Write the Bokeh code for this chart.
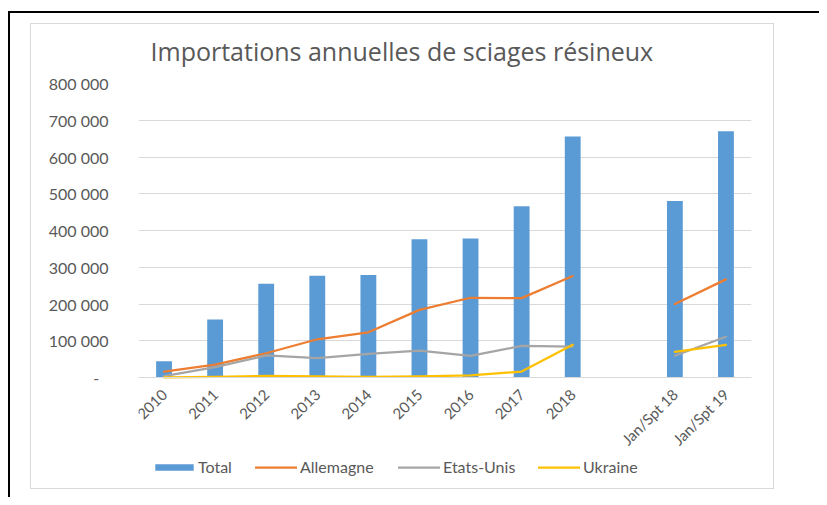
import math
import numpy as np
from bokeh.plotting import figure
from bokeh.models import (Range1d, FactorRange, ColumnDataSource, Legend, LegendItem,
                          FixedTicker, InlineStyleSheet)
from bokeh.embed import file_html
from bokeh.resources import INLINE
from bokeh.core.properties import value

nan = float("nan")

categories = ["2010", "2011", "2012", "2013", "2014", "2015", "2016", "2017", "2018",
              " ", "Jan/Spt 18", "Jan/Spt 19"]
total = [44000, 158000, 255000, 277000, 279000, 376000, 378000, 466000, 656000, nan, 480000, 670000]
allemagne = [16000, 35000, 66000, 104000, 123000, 184000, 217000, 216000, 276000, nan, 200000, 267000]
etats_unis = [4000, 28000, 60000, 53000, 64000, 73000, 59000, 86000, 84000, nan, 59000, 111000]
ukraine = [500, 1500, 4500, 3000, 2000, 3000, 6000, 16000, 89000, nan, 70000, 89000]

y_ticks = [0, 100000, 200000, 300000, 400000, 500000, 600000, 700000, 800000]
y_labels = ["-\u2007", "100 000", "200 000", "300 000", "400 000", "500 000",
            "600 000", "700 000", "800 000"]

series_names = ["Total", "Allemagne", "Etats-Unis", "Ukraine"]
title_text = "Importations annuelles de sciages résineux"

src = ColumnDataSource(dict(
    cat=categories,
    total=np.array(total, dtype=float),
    allemagne=np.array(allemagne, dtype=float),
    etats_unis=np.array(etats_unis, dtype=float),
    ukraine=np.array(ukraine, dtype=float),
))

FONT = "Lato"
TXT = "#595959"
GRID = "#D9D9D9"

# layout (pixels): plot area from y=83 (800 000) to y=377 (0); frame extends
# 100 px below zero so the legend can live inside it.
Y_MAX = 800000
PLOT_PX = 294
BELOW_PX = 100
y_start = -Y_MAX * BELOW_PX / PLOT_PX

frame_css = InlineStyleSheet(css="""
:host::before {
  content: ""; position: absolute; left: 30px; top: 23px; width: 744px; height: 466px;
  box-sizing: border-box; border: 1.5px solid #D9D9D9; pointer-events: none; z-index: 5;
}
:host::after {
  content: ""; position: absolute; left: 8px; top: 11px; width: 811px; height: 486px;
  box-sizing: border-box; border-top: 2px solid #000; border-left: 2px solid #000;
  pointer-events: none; z-index: 5;
}
""")

p = figure(width=819, height=497,
           x_range=FactorRange(*categories, range_padding=0),
           y_range=Range1d(y_start, Y_MAX),
           output_backend="svg", toolbar_location=None,
           min_border_left=138, min_border_right=68,
           min_border_top=83, min_border_bottom=20)
p.stylesheets = [frame_css]

p.outline_line_color = None
p.background_fill_color = "white"
p.border_fill_color = "white"

p.title.text = title_text
p.title.align = "left"
p.title.offset = 12
p.title.standoff = 31
p.title.text_font = "Open Sans"
p.title.text_font_size = "25px"
p.title.text_font_style = "normal"
p.title.text_color = TXT

p.xgrid.visible = False
p.ygrid.ticker = FixedTicker(ticks=y_ticks)
p.ygrid.grid_line_color = GRID
p.ygrid.grid_line_width = 1

p.yaxis.ticker = FixedTicker(ticks=y_ticks)
p.yaxis.major_label_overrides = {t: l for t, l in zip(y_ticks, y_labels)}
p.yaxis.axis_line_color = None
p.yaxis.major_tick_line_color = None
p.yaxis.minor_tick_line_color = None
p.yaxis.major_tick_out = 0
p.yaxis.major_tick_in = 0
p.yaxis.major_label_standoff = 30
p.yaxis.major_label_text_font = FONT
p.yaxis.major_label_text_font_size = "16px"
p.yaxis.major_label_text_color = TXT

xax = p.xaxis[0]
xax.fixed_location = 0
xax.axis_line_color = GRID
xax.axis_line_width = 1
xax.major_tick_line_color = None
xax.major_tick_out = 0
xax.major_tick_in = 0
xax.major_label_orientation = math.pi / 4
xax.major_label_standoff = 14
xax.major_label_text_font = FONT
xax.major_label_text_font_size = "15px"
xax.major_label_text_color = TXT

bars = p.vbar(x="cat", top="total", width=0.31, source=src,
              fill_color="#5B9BD5", line_color=None)
l_all = p.line(x="cat", y="allemagne", source=src, line_color="#ED7D31",
               line_width=2.25, line_join="round", line_cap="round")
l_usa = p.line(x="cat", y="etats_unis", source=src, line_color="#A5A5A5",
               line_width=2.25, line_join="round", line_cap="round")
l_ukr = p.line(x="cat", y="ukraine", source=src, line_color="#FFC000",
               line_width=2.25, line_join="round", line_cap="round")

# one legend per entry so each sits where the reference puts it
leg_renderers = [bars, l_all, l_usa, l_ukr]
leg_x = [12, 117, 260, 400]
leg_gw = [48, 42, 42, 42]
leg_sd = [0, 3, 3, 3]
for name, r, lx, gw, sd in zip(series_names, leg_renderers, leg_x, leg_gw, leg_sd):
    lg = Legend(items=[LegendItem(label=value(name), renderers=[r])],
                location=(lx, 1), orientation="horizontal",
                glyph_width=gw, glyph_height=8, label_height=8,
                label_standoff=sd, padding=0, margin=0,
                border_line_alpha=0, background_fill_alpha=0,
                label_text_font=FONT, label_text_font_size="16px",
                label_text_color=TXT)
    p.add_layout(lg, "center")

open("out.html", "w").write(file_html(p, INLINE))
